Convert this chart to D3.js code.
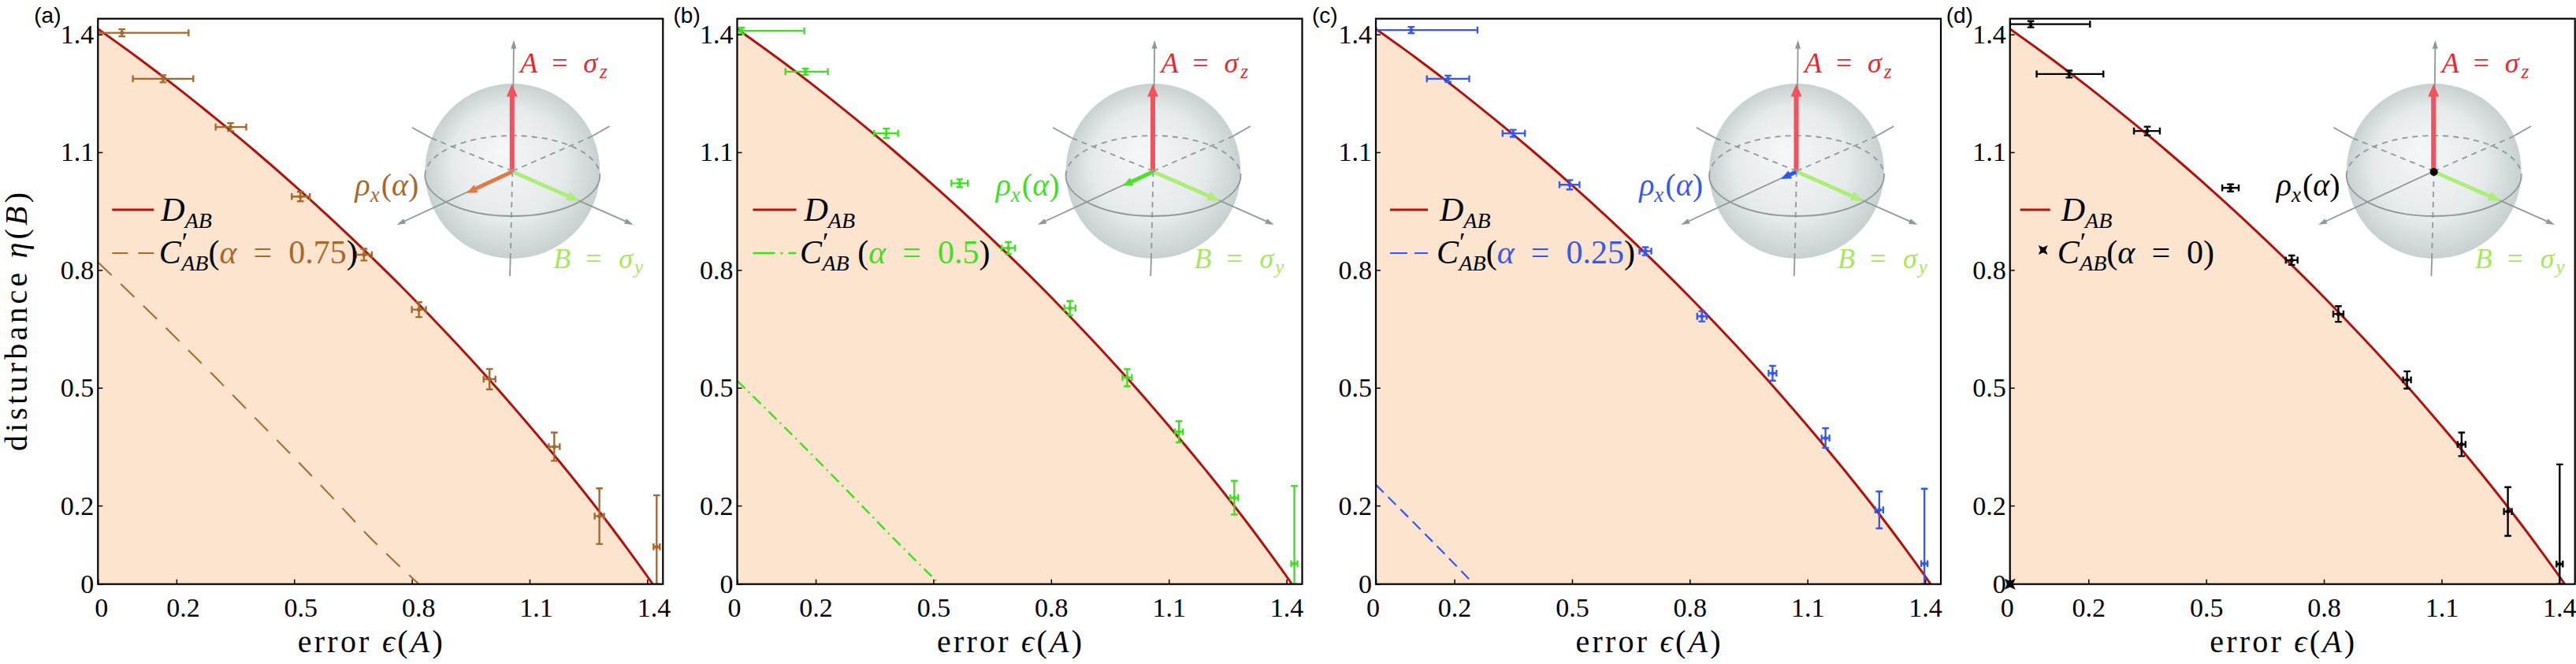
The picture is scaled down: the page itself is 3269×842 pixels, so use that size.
<!DOCTYPE html>
<html>
<head>
<meta charset="utf-8">
<script src="https://cdn.jsdelivr.net/npm/d3@7"></script>
<style>
html, body { margin: 0; padding: 0; background: #fff; }
svg { display: block; }
text { white-space: pre; }
</style>
</head>
<body>
<div class="chart"></div>
<script>
var svgWidth = 3269;
var svgHeight = 842;

// four square panels, same scale
var plotSize = 717;
var plotTop = 23.7;
var panelLefts = [124.3, 935.5, 1746, 2550.7];
var panelNames = ["(a)", "(b)", "(c)", "(d)"];

var tickValues = [0, 0.2, 0.5, 0.8, 1.1, 1.4];
var tickLabels = ["0", "0.2", "0.5", "0.8", "1.1", "1.4"];

// D_AB boundary
var dabX = [0, 0.1, 0.2, 0.3, 0.4, 0.5, 0.6, 0.7, 0.8, 0.9, 1.0, 1.1, 1.2, 1.3, 1.35, 1.4, 1.414];
var dabY = [1.414, 1.342, 1.266, 1.186, 1.103, 1.016, 0.925, 0.830, 0.731, 0.627, 0.518, 0.403, 0.283, 0.156, 0.089, 0.020, 0];

// C'_AB lines for alpha = 0.75, 0.5, 0.25
var cLineAX = [0, 0.1, 0.2, 0.3, 0.4, 0.5, 0.6, 0.7, 0.818];
var cLineAY = [0.82, 0.724, 0.626, 0.526, 0.424, 0.322, 0.218, 0.112, 0];
var cLineBX = [0, 0.1, 0.2, 0.3, 0.4, 0.516];
var cLineBY = [0.518, 0.42, 0.32, 0.218, 0.115, 0];
var cLineCX = [0, 0.125, 0.25];
var cLineCY = [0.253, 0.128, 0];

var alphas = [0.75, 0.5, 0.25, 0];
var alphaLabels = ["0.75", "0.5", "0.25", "0"];

// measured points: [x, y, xLow, xHigh, yLow, yHigh]
var pointsA = [
    [0.061, 1.404, 0.000, 0.231, 1.395, 1.413],
    [0.166, 1.287, 0.089, 0.243, 1.278, 1.296],
    [0.338, 1.164, 0.300, 0.378, 1.154, 1.174],
    [0.516, 0.987, 0.494, 0.540, 0.975, 0.999],
    [0.678, 0.839, 0.658, 0.698, 0.824, 0.854],
    [0.818, 0.699, 0.800, 0.836, 0.680, 0.718],
    [0.998, 0.522, 0.983, 1.013, 0.496, 0.548],
    [1.163, 0.350, 1.149, 1.177, 0.314, 0.386],
    [1.278, 0.173, 1.266, 1.290, 0.102, 0.244],
    [1.424, 0.095, 1.416, 1.432, 0.000, 0.226]
];
var pointsB = [
    [0.011, 1.409, 0.000, 0.171, 1.401, 1.417],
    [0.174, 1.305, 0.123, 0.231, 1.297, 1.313],
    [0.380, 1.148, 0.349, 0.410, 1.136, 1.160],
    [0.567, 1.021, 0.546, 0.588, 1.011, 1.031],
    [0.691, 0.856, 0.674, 0.708, 0.841, 0.871],
    [0.848, 0.703, 0.834, 0.862, 0.685, 0.721],
    [0.994, 0.526, 0.982, 1.006, 0.504, 0.548],
    [1.126, 0.388, 1.116, 1.136, 0.361, 0.415],
    [1.267, 0.220, 1.257, 1.277, 0.177, 0.263],
    [1.420, 0.052, 1.412, 1.428, 0.000, 0.250]
];
var pointsC = [
    [0.090, 1.411, 0.000, 0.259, 1.403, 1.419],
    [0.184, 1.287, 0.130, 0.238, 1.279, 1.295],
    [0.350, 1.148, 0.323, 0.380, 1.139, 1.157],
    [0.494, 1.017, 0.468, 0.519, 1.005, 1.029],
    [0.687, 0.848, 0.672, 0.702, 0.838, 0.858],
    [0.831, 0.682, 0.819, 0.843, 0.669, 0.695],
    [1.011, 0.537, 1.001, 1.021, 0.518, 0.556],
    [1.146, 0.372, 1.136, 1.156, 0.347, 0.397],
    [1.283, 0.189, 1.273, 1.293, 0.142, 0.236],
    [1.398, 0.052, 1.390, 1.406, 0.000, 0.243]
];
var pointsD = [
    [0.053, 1.426, 0.000, 0.204, 1.418, 1.434],
    [0.151, 1.299, 0.068, 0.238, 1.290, 1.308],
    [0.350, 1.154, 0.316, 0.382, 1.143, 1.165],
    [0.562, 1.009, 0.541, 0.583, 1.000, 1.018],
    [0.718, 0.825, 0.703, 0.733, 0.813, 0.837],
    [0.837, 0.688, 0.824, 0.850, 0.668, 0.708],
    [1.012, 0.520, 1.002, 1.022, 0.498, 0.542],
    [1.151, 0.356, 1.141, 1.161, 0.326, 0.386],
    [1.269, 0.185, 1.259, 1.279, 0.123, 0.247],
    [1.401, 0.051, 1.393, 1.409, 0.000, 0.305]
];

var seriesColors = ["#a5692d", "#3fe01f", "#3558ee", "#000000"];
var rhoArrowColors = ["#e07a45", "#4ee02a", "#2f55ee", "#000000"];
var cDash = ["24,16", "14,6,2,6", "14,8", null];
var cLegendDash = ["20,13", "28,7,3,7", "22,9", null];
var cWidth = [2, 2.5, 2.2, 0];

// layout bits measured per panel
var sphereOffsets = [526, 528, 534, 538];
var legendLines = [[18, 71], [20, 75], [18, 66], [13, 51]];
var legendText1 = [80, 85, 81, 65];
var legendText2 = [77.5, 79.5, 77, 60];
var xLabelShift = [8, 0, 0, 0];

var serif = "'Liberation Serif', 'Times New Roman', serif";
var sans = "'Liberation Sans', Arial, sans-serif";
var fillColor = "#fde4cf";
var dabColor = "#b0120e";
var axisGrey = "#8f999b";

var svg = d3.select(".chart")
    .append("svg")
    .attr("width", svgWidth)
    .attr("height", svgHeight);

var defs = svg.append("defs");
var grad = defs.append("radialGradient")
    .attr("id", "sphereGrad")
    .attr("cx", "50%").attr("cy", "50%").attr("r", "50%")
    .attr("fx", "42%").attr("fy", "38%");
grad.append("stop").attr("offset", "0%").attr("stop-color", "#f6f8f8");
grad.append("stop").attr("offset", "65%").attr("stop-color", "#e5eaea");
grad.append("stop").attr("offset", "100%").attr("stop-color", "#c8d0d0");

var xScale = d3.scaleLinear().domain([0, 1.44]).range([0, plotSize]);
var yScale = d3.scaleLinear().domain([0, 1.44]).range([plotSize, 0]);

var dab = dabX.map((d, k) => [d, dabY[k]]);
var cLines = [
    cLineAX.map((d, k) => [d, cLineAY[k]]),
    cLineBX.map((d, k) => [d, cLineBY[k]]),
    cLineCX.map((d, k) => [d, cLineCY[k]]),
    null
];
var pointSets = [pointsA, pointsB, pointsC, pointsD];

var line = d3.line()
    .x(d => xScale(d[0]))
    .y(d => yScale(d[1]))
    .curve(d3.curveMonotoneX);

var area = d3.area()
    .x(d => xScale(d[0]))
    .y0(yScale(0))
    .y1(d => yScale(d[1]))
    .curve(d3.curveMonotoneX);

// text with italic / sub / sup pieces
function mathText(g, x, y, parts, size, anchor) {
    var t = g.append("text")
        .attr("x", x)
        .attr("y", y)
        .attr("font-family", serif)
        .attr("font-size", size)
        .attr("text-anchor", anchor || "start");
    var shift = 0;
    parts.forEach(function (p) {
        var s = t.append("tspan").text(p.t);
        var target = p.dy || 0;
        if (target !== shift) {
            s.attr("dy", target - shift);
            shift = target;
        }
        if (p.x !== undefined) s.attr("x", p.x);
        if (p.dx) s.attr("dx", p.dx);
        if (p.it) s.attr("font-style", "italic");
        if (p.size) s.attr("font-size", p.size);
        if (p.fill) s.attr("fill", p.fill);
    });
    return t;
}

function arrow(g, x1, y1, x2, y2, color, w, hl, hw) {
    var dx = x2 - x1, dy = y2 - y1;
    var len = Math.sqrt(dx * dx + dy * dy);
    var ux = dx / len, uy = dy / len;
    var bx = x2 - ux * hl, by = y2 - uy * hl;
    if (len > hl) {
        g.append("line")
            .attr("x1", x1).attr("y1", y1)
            .attr("x2", bx + ux).attr("y2", by + uy)
            .attr("stroke", color)
            .attr("stroke-width", w);
    }
    g.append("path")
        .attr("d", `M${x2},${y2}L${bx - uy * hw / 2},${by + ux * hw / 2}L${bx + uy * hw / 2},${by - ux * hw / 2}Z`)
        .attr("fill", color);
}

function starPath(s) {
    var k = s * 0.55;
    return `M${-s},${-s}L0,${-k}L${s},${-s}L${k},0L${s},${s}L0,${k}L${-s},${s}L${-k},0Z`;
}

// Bloch sphere inset
function drawBloch(g, cx, cy, i) {
    var b = g.append("g");
    b.append("circle")
        .attr("cx", cx).attr("cy", cy).attr("r", 111)
        .attr("fill", "url(#sphereGrad)");

    var hidden = b.append("g")
        .attr("stroke", axisGrey)
        .attr("stroke-width", 1.8)
        .attr("stroke-dasharray", "7,6")
        .attr("fill", "none");
    hidden.append("line").attr("x1", cx).attr("y1", cy).attr("x2", cx + 100).attr("y2", cy - 43.7);
    hidden.append("line").attr("x1", cx).attr("y1", cy).attr("x2", cx - 103.3).attr("y2", cy - 42);
    hidden.append("line").attr("x1", cx).attr("y1", cy).attr("x2", cx - 2.6).attr("y2", cy + 111);
    hidden.append("path")
        .attr("d", `M${cx - 111},${cy + 6}A111,51 0 0 1 ${cx + 111},${cy + 6}`);

    var solid = b.append("g")
        .attr("stroke", axisGrey)
        .attr("stroke-width", 1.8)
        .attr("fill", "none");
    solid.append("line").attr("x1", cx + 100).attr("y1", cy - 43.7).attr("x2", cx + 123.3).attr("y2", cy - 57);
    solid.append("line").attr("x1", cx - 103.3).attr("y1", cy - 42).attr("x2", cx - 127.3).attr("y2", cy - 55.3);
    solid.append("line").attr("x1", cx - 2.6).attr("y1", cy + 111).attr("x2", cx - 3.3).attr("y2", cy + 133);
    solid.append("path")
        .attr("d", `M${cx - 111},${cy + 6}A111,51 0 0 0 ${cx + 111},${cy + 6}`);

    arrow(b, cx, cy, cx - 146.7, cy + 68, axisGrey, 1.8, 11, 7);
    arrow(b, cx, cy, cx + 153.3, cy + 68, axisGrey, 1.8, 11, 7);
    arrow(b, cx, cy, cx + 1.7, cy - 166.3, axisGrey, 1.8, 11, 7);

    // A, B and rho vectors
    arrow(b, cx - 0.5, cy - 2, cx - 0.5, cy - 110.5, "#f2525c", 6, 16, 14);
    arrow(b, cx + 2, cy + 1.5, cx + 85, cy + 38, "#aeed78", 5, 16, 12);
    if (alphas[i] > 0) {
        arrow(b, cx - 1, cy + 1, cx - 1 - 76 * alphas[i], cy + 1 + 35.6 * alphas[i], rhoArrowColors[i], 5, 13, 11);
    } else {
        b.append("circle").attr("cx", cx).attr("cy", cy + 1).attr("r", 5).attr("fill", "#000");
    }

    mathText(b, 0, cy - 125, [
        { t: "A", it: true, x: cx + 10 },
        { t: "=", x: cx + 50 },
        { t: "σ", it: true, x: cx + 90 },
        { t: "z", it: true, size: 25, dy: 7, dx: 3 }
    ], 36).attr("fill", "#e8262e");

    mathText(b, 0, cy + 123, [
        { t: "B", it: true, x: cx + 52 },
        { t: "=", x: cx + 93 },
        { t: "σ", it: true, x: cx + 135 },
        { t: "y", it: true, size: 25, dy: 7, dx: 2 }
    ], 36).attr("fill", "#a6e85a");

    mathText(b, cx - 119, cy + 31, [
        { t: "ρ", it: true },
        { t: "x", it: true, size: 27, dy: 8 },
        { t: "(", dy: 0, dx: 2 },
        { t: "α", it: true },
        { t: ")" }
    ], 40, "end").attr("fill", seriesColors[i]);
}

panelLefts.forEach(function (left, i) {
    var color = seriesColors[i];
    var g = svg.append("g")
        .attr("transform", `translate(${left}, ${plotTop})`);

    defs.append("clipPath")
        .attr("id", "clip" + i)
        .append("rect")
        .attr("width", plotSize)
        .attr("height", plotSize);

    var plot = g.append("g").attr("clip-path", `url(#clip${i})`);

    plot.append("path")
        .datum(dab)
        .attr("d", area)
        .attr("fill", fillColor);

    if (cLines[i]) {
        plot.append("path")
            .datum(cLines[i])
            .attr("d", line)
            .attr("fill", "none")
            .attr("stroke", color)
            .attr("stroke-width", cWidth[i])
            .attr("stroke-dasharray", cDash[i]);
    }

    plot.append("path")
        .datum(dab)
        .attr("d", line)
        .attr("fill", "none")
        .attr("stroke", dabColor)
        .attr("stroke-width", 3);

    drawBloch(g, sphereOffsets[i], 217 - plotTop, i);

    // error bars
    var eb = plot.append("g")
        .attr("stroke", color)
        .attr("stroke-width", 2.4)
        .attr("fill", "none");
    pointSets[i].forEach(function (d) {
        var px = xScale(d[0]), py = yScale(d[1]);
        var x0 = xScale(d[2]), x1 = xScale(d[3]);
        var y0 = yScale(d[4]), y1 = yScale(d[5]);
        var c = 4.3;
        eb.append("path")
            .attr("d", `M${x0},${py}H${x1}M${x0},${py - c}V${py + c}M${x1},${py - c}V${py + c}` +
                `M${px},${y0}V${y1}M${px - c},${y0}H${px + c}M${px - c},${y1}H${px + c}`);
        eb.append("circle")
            .attr("cx", px).attr("cy", py).attr("r", 2.6)
            .attr("fill", color).attr("stroke", "none");
    });

    if (alphas[i] === 0) {
        g.append("path")
            .attr("d", starPath(7))
            .attr("transform", `translate(${xScale(0)},${yScale(0)})`)
            .attr("fill", "#000");
    }

    // legend
    var lg = g.append("g");
    lg.append("line")
        .attr("x1", legendLines[i][0]).attr("x2", legendLines[i][1])
        .attr("y1", 266 - plotTop).attr("y2", 266 - plotTop)
        .attr("stroke", dabColor)
        .attr("stroke-width", 3);
    mathText(lg, legendText1[i], 280 - plotTop, [
        { t: "D", it: true },
        { t: "AB", it: true, size: 28, dy: 9 }
    ], 42);

    if (alphas[i] > 0) {
        lg.append("line")
            .attr("x1", legendLines[i][0]).attr("x2", legendLines[i][1])
            .attr("y1", 321 - plotTop).attr("y2", 321 - plotTop)
            .attr("stroke", color)
            .attr("stroke-width", cWidth[i])
            .attr("stroke-dasharray", cLegendDash[i]);
    } else {
        lg.append("path")
            .attr("d", starPath(6))
            .attr("transform", `translate(42,${317 - plotTop})`)
            .attr("fill", "#000");
    }
    mathText(lg, legendText2[i], 334 - plotTop, [
        { t: "C", it: true },
        { t: "′", size: 34, dy: -16, dx: 1 },
        { t: "AB", it: true, size: 28, dy: 9, dx: -8 },
        { t: i === 1 ? " (" : "(", dy: 0 },
        { t: "α", it: true, fill: color },
        { t: "\u2002=\u2002" + alphaLabels[i], fill: color },
        { t: ")" }
    ], 42);

    // axes
    var xAxis = d3.axisBottom(xScale)
        .tickValues(tickValues)
        .tickFormat((d, k) => tickLabels[k])
        .tickSize(-6)
        .tickPadding(17);
    var gx = g.append("g")
        .attr("transform", `translate(0,${plotSize})`)
        .call(xAxis)
        .attr("font-family", serif)
        .attr("font-size", 34);
    gx.select(".domain").remove();
    gx.selectAll("line").attr("stroke", "#000").attr("stroke-width", 1.5);
    gx.selectAll("text")
        .attr("fill", "#000")
        .attr("dx", (d, k) => (k === 0 ? -4 : 0) + xLabelShift[i]);

    var yAxis = d3.axisLeft(yScale)
        .tickValues(tickValues)
        .tickFormat((d, k) => tickLabels[k])
        .tickSize(-6)
        .tickPadding(5);
    var gy = g.append("g")
        .call(yAxis)
        .attr("font-family", serif)
        .attr("font-size", 34);
    gy.select(".domain").remove();
    gy.selectAll("line").attr("stroke", "#000").attr("stroke-width", 1.5);
    gy.selectAll("text").attr("fill", "#000");

    g.append("rect")
        .attr("width", plotSize)
        .attr("height", plotSize)
        .attr("fill", "none")
        .attr("stroke", "#000")
        .attr("stroke-width", 2.2);

    g.append("text")
        .attr("x", -81)
        .attr("y", 29 - plotTop)
        .attr("font-family", sans)
        .attr("font-size", 28)
        .text(panelNames[i]);

    // axis titles: start-anchored so the stretched length stays centred
    mathText(g, plotSize / 2 - 13 - 92, 827 - plotTop, [
        { t: "error " },
        { t: "ϵ", it: true },
        { t: "(" },
        { t: "A", it: true },
        { t: ")" }
    ], 40)
        .attr("textLength", 184)
        .attr("lengthAdjust", "spacing");

    if (i === 0) {
        mathText(g, -164, 0, [
            { t: "disturbance " },
            { t: "η", it: true },
            { t: "(" },
            { t: "B", it: true },
            { t: ")" }
        ], 40)
            .attr("transform", `translate(${34 - left},${408 - plotTop}) rotate(-90)`)
            .attr("textLength", 328)
            .attr("lengthAdjust", "spacing");
    }
});
</script>
</body>
</html>
